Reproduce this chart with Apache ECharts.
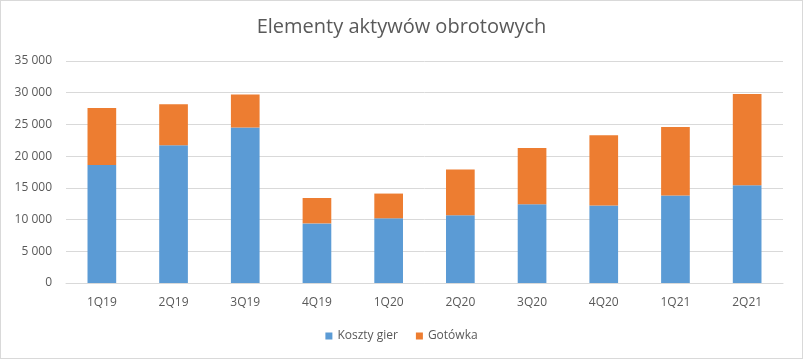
<!DOCTYPE html>
<html>
<head>
<meta charset="utf-8">
<script src="https://cdn.jsdelivr.net/npm/echarts@6/dist/echarts.min.js"></script>
<style>
html,body{margin:0;padding:0;background:#fff;}
#chart{position:absolute;left:0;top:0;width:801px;height:357px;border:1px solid #d9d9d9;}
</style>
</head>
<body>
<div id="chart"></div>
<script>
const categories = ['1Q19','2Q19','3Q19','4Q19','1Q20','2Q20','3Q20','4Q20','1Q21','2Q21'];
const kosztyGier = [18600,21700,24500,9400,10200,10700,12400,12200,13800,15400];
const gotowka = [9000,6500,5200,4000,3900,7200,8900,11100,10800,14400];
const seriesNames = ['Koszty gier','Gotówka'];
const titleText = 'Elementy aktywów obrotowych';

const chart = echarts.init(document.getElementById('chart'));
const fmt = v => String(v).replace(/\B(?=(\d{3})+(?!\d))/g, ' ');
chart.setOption({
  animation: false,
  textStyle: {fontFamily: 'Open Sans'},
  title: {
    text: titleText, left: 'center', top: 11,
    textStyle: {fontFamily: 'Open Sans', fontSize: 20, fontWeight: 'normal', color: '#595959'}
  },
  legend: {
    data: seriesNames, bottom: 11, left: 'center',
    itemWidth: 7, itemHeight: 7, itemGap: 18, icon: 'rect',
    textStyle: {fontFamily: 'Open Sans', fontSize: 12, color: '#595959'}
  },
  grid: {left: 65, right: 19, top: 60, bottom: 75, containLabel: false},
  xAxis: {
    type: 'category', data: categories,
    axisLine: {lineStyle: {color: '#d9d9d9'}},
    axisTick: {show: false},
    axisLabel: {color: '#595959', fontSize: 12, margin: 14}
  },
  yAxis: {
    type: 'value', min: 0, max: 35000, interval: 5000,
    axisLine: {show: false}, axisTick: {show: false},
    splitLine: {lineStyle: {color: '#d9d9d9'}},
    axisLabel: {color: '#595959', fontSize: 12, margin: 14, formatter: fmt}
  },
  series: [
    {name: seriesNames[0], type: 'bar', stack: 't', data: kosztyGier, barWidth: '40%', itemStyle: {color: '#5B9BD5'}},
    {name: seriesNames[1], type: 'bar', stack: 't', data: gotowka, barWidth: '40%', itemStyle: {color: '#ED7D31'}}
  ]
});
</script>
</body>
</html>
